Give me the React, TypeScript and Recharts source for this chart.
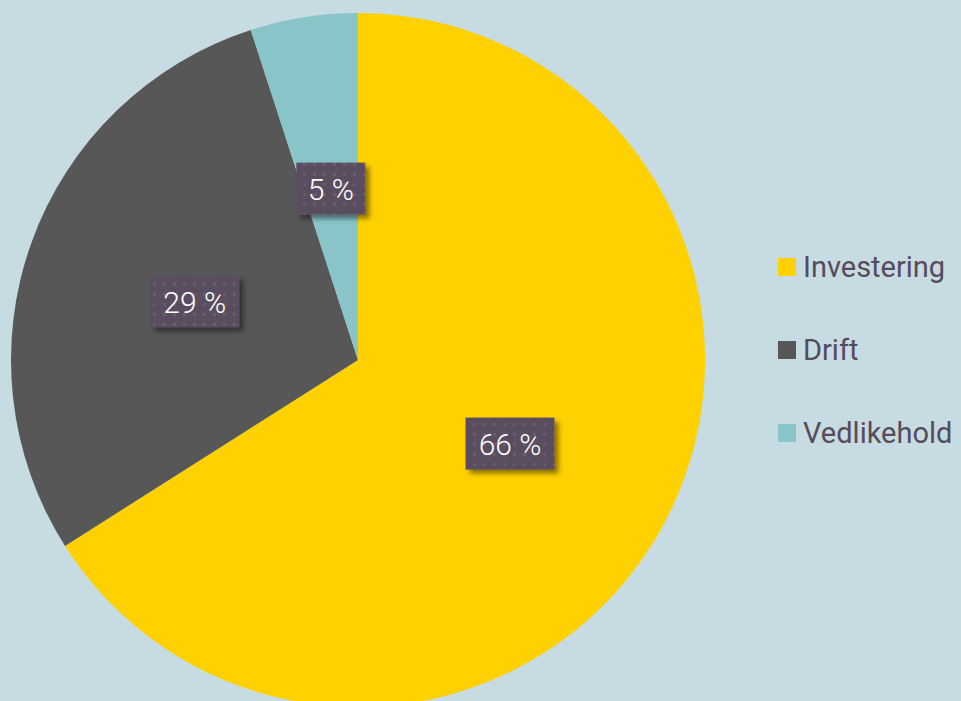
import React from "react";
import { PieChart, Pie, Cell, Legend } from "recharts";

const categories = ["Investering", "Drift", "Vedlikehold"];
const shares = [66, 29, 5];
const colors = ["#ffd100", "#575757", "#88c4c8"];

const data = categories.map((name, i) => ({ name, value: shares[i] }));

const RAD = Math.PI / 180;

const renderLabel = (props: any) => {
  const { cx, cy, midAngle, outerRadius, value } = props;
  const r = outerRadius * 0.5;
  const x = cx + r * Math.cos(-midAngle * RAD);
  const y = cy + r * Math.sin(-midAngle * RAD);
  const text = `${value} %`;
  const w = value >= 10 ? 89 : 69;
  const h = 52;
  return (
    <g>
      <rect
        x={x - w / 2}
        y={y - h / 2}
        width={w}
        height={h}
        fill="#5a4d5f"
        filter="url(#boxShadow)"
      />
      <rect x={x - w / 2} y={y - h / 2} width={w} height={h} fill="url(#dots)" />
      <text
        x={x}
        y={y + 1}
        fill="#ffffff"
        fontSize={30}
        fontWeight={300}
        fontFamily="Roboto, sans-serif"
        textAnchor="middle"
        dominantBaseline="central"
      >
        {text}
      </text>
    </g>
  );
};

const renderLegend = () => (
  <div>
    {data.map((d, i) => (
      <div
        key={d.name}
        style={{
          display: "flex",
          alignItems: "center",
          height: 83,
          fontFamily: "Roboto, sans-serif",
          fontSize: 29,
          color: "#574b5c",
          whiteSpace: "nowrap",
        }}
      >
        <span
          style={{
            display: "inline-block",
            width: 18,
            height: 18,
            background: colors[i],
            marginRight: 7,
          }}
        />
        {d.name}
      </div>
    ))}
  </div>
);

export default function App() {
  return (
    <div
      style={{
        position: "fixed",
        left: 0,
        top: 0,
        width: 961,
        height: 701,
        background: "#c6dce2",
        overflow: "hidden",
      }}
    >
      <PieChart width={961} height={701} margin={{ top: 0, right: 0, bottom: 0, left: 0 }}>
        <defs>
          <filter id="boxShadow" x="-20%" y="-20%" width="150%" height="160%">
            <feDropShadow dx={4} dy={4} stdDeviation={2.5} floodColor="#000" floodOpacity={0.45} />
          </filter>
          <pattern id="dots" width={10} height={10} patternUnits="userSpaceOnUse">
            <rect x={3} y={3} width={3} height={3} fill="#ffffff" fillOpacity={0.08} />
          </pattern>
        </defs>
        <Pie
          data={data}
          dataKey="value"
          nameKey="name"
          cx={358}
          cy={360}
          outerRadius={347}
          startAngle={90}
          endAngle={-270}
          stroke="none"
          label={renderLabel}
          labelLine={false}
          isAnimationActive={false}
        >
          {data.map((d, i) => (
            <Cell key={d.name} fill={colors[i]} />
          ))}
        </Pie>
        <Legend
          layout="vertical"
          content={renderLegend}
          wrapperStyle={{ left: 778, top: 225, width: 183 }}
        />
      </PieChart>
    </div>
  );
}
